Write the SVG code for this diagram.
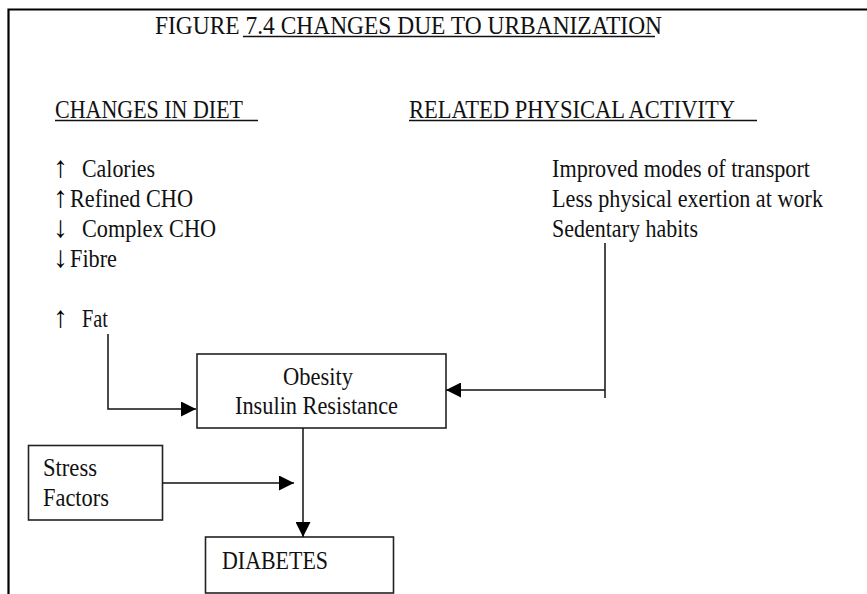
<svg xmlns="http://www.w3.org/2000/svg" width="867" height="594" viewBox="0 0 867 594">
<defs>
<style>
text{font-family:"Liberation Serif","Times New Roman",serif;font-size:25px;fill:#111}
text.arr{font-size:30px;fill:#000}
.box{fill:#fff;stroke:#222;stroke-width:1.6}
.ln{fill:none;stroke:#111;stroke-width:1.5}
.ul{stroke:#111;stroke-width:1.3}
.frame{stroke:#000;stroke-width:2.2;fill:none}
</style>
<marker id="ah" markerUnits="userSpaceOnUse" markerWidth="15" markerHeight="15" refX="15" refY="7.5" orient="auto">
<path d="M0,0 L15,7.5 L0,15 Z" fill="#000"/>
</marker>
</defs>
<rect width="867" height="594" fill="#fff"/>
<path class="frame" d="M8.5,594 V9.5 H867"/>

<g id="title">
<text x="155" y="34" textLength="507" lengthAdjust="spacingAndGlyphs">FIGURE 7.4 CHANGES DUE TO URBANIZATION</text>
<line class="ul" x1="243" y1="36.5" x2="655" y2="36.5"/>
</g>

<g id="diet-heading">
<text x="55" y="118" textLength="188" lengthAdjust="spacingAndGlyphs">CHANGES IN DIET</text>
<line class="ul" x1="55" y1="120.5" x2="258" y2="120.5"/>
</g>

<g id="activity-heading">
<text x="409" y="118" textLength="326" lengthAdjust="spacingAndGlyphs">RELATED PHYSICAL ACTIVITY</text>
<line class="ul" x1="409" y1="120.5" x2="757" y2="120.5"/>
</g>

<g id="diet-list">
<text class="arr" x="53" y="177">↑</text><text x="82" y="177" textLength="73" lengthAdjust="spacingAndGlyphs">Calories</text>
<text class="arr" x="53" y="207">↑</text><text x="70" y="207" textLength="123" lengthAdjust="spacingAndGlyphs">Refined CHO</text>
<text class="arr" x="53" y="237">↓</text><text x="82" y="237" textLength="134" lengthAdjust="spacingAndGlyphs">Complex CHO</text>
<text class="arr" x="53" y="267">↓</text><text x="70" y="267" textLength="47" lengthAdjust="spacingAndGlyphs">Fibre</text>
<text class="arr" x="53" y="327">↑</text><text x="82" y="327" textLength="26" lengthAdjust="spacingAndGlyphs">Fat</text>
</g>

<g id="activity-list">
<text x="552" y="177" textLength="258" lengthAdjust="spacingAndGlyphs">Improved modes of transport</text>
<text x="552" y="207" textLength="271" lengthAdjust="spacingAndGlyphs">Less physical exertion at work</text>
<text x="552" y="237" textLength="146" lengthAdjust="spacingAndGlyphs">Sedentary habits</text>
</g>

<g id="obesity">
<rect class="box" x="197" y="354" width="249" height="74"/>
<text x="283" y="385" textLength="70" lengthAdjust="spacingAndGlyphs">Obesity</text>
<text x="235" y="414" textLength="163" lengthAdjust="spacingAndGlyphs">Insulin Resistance</text>
</g>

<g id="stress">
<rect class="box" x="28.5" y="445.5" width="134" height="74.5"/>
<text x="43" y="476" textLength="54" lengthAdjust="spacingAndGlyphs">Stress</text>
<text x="43" y="506" textLength="66" lengthAdjust="spacingAndGlyphs">Factors</text>
</g>

<g id="diabetes">
<rect class="box" x="205.5" y="537" width="188" height="56"/>
<text x="222" y="569" textLength="106" lengthAdjust="spacingAndGlyphs">DIABETES</text>
</g>

<g id="connectors">
<path class="ln" d="M108,334 V409 H196" marker-end="url(#ah)"/>
<path class="ln" d="M605,243 V398"/>
<path class="ln" d="M605,390 H446" marker-end="url(#ah)"/>
<path class="ln" d="M303,428 V537" marker-end="url(#ah)"/>
<path class="ln" d="M162.5,483 H294" marker-end="url(#ah)"/>
</g>
</svg>
